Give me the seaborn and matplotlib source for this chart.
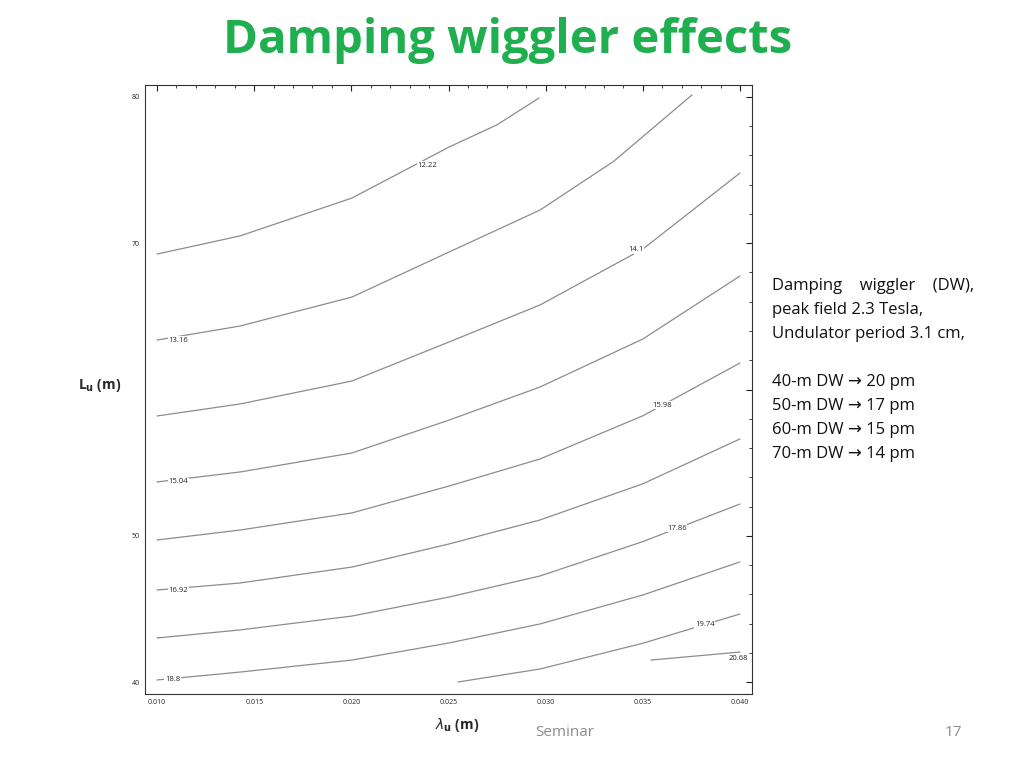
import matplotlib
matplotlib.use("Agg")
import matplotlib.pyplot as plt
import seaborn as sns
import pandas as pd
from matplotlib.ticker import MultipleLocator

sns.set_style("white")
plt.rcParams['font.family'] = ['Open Sans', 'DejaVu Sans']

levels = ["12.22", "13.16", "14.1", "15.04", "15.98", "16.92", "17.86", "18.8", "19.74", "20.68"]
xs = {
    "12.22": [0.0100, 0.01427, 0.02003, 0.02503, 0.0275, 0.02966],
    "13.16": [0.0100, 0.01427, 0.02003, 0.02503, 0.02971, 0.0335, 0.03753],
    "14.1":  [0.0100, 0.01427, 0.02003, 0.02503, 0.02971, 0.0350, 0.0400],
    "15.04": [0.0100, 0.01427, 0.02003, 0.02503, 0.02971, 0.0350, 0.0400],
    "15.98": [0.0100, 0.01427, 0.02003, 0.02503, 0.02971, 0.0350, 0.0400],
    "16.92": [0.0100, 0.01427, 0.02003, 0.02503, 0.02971, 0.0350, 0.0400],
    "17.86": [0.0100, 0.01427, 0.02003, 0.02503, 0.02971, 0.0350, 0.0400],
    "18.8":  [0.0100, 0.01427, 0.02003, 0.02503, 0.02971, 0.0350, 0.0400],
    "19.74": [0.02549, 0.02971, 0.0350, 0.0400],
    "20.68": [0.03542, 0.0400],
}
ys = {
    "12.22": [69.26, 70.50, 73.09, 76.58, 78.10, 79.93],
    "13.16": [63.38, 64.34, 66.32, 69.40, 72.27, 75.60, 80.14],
    "14.1":  [58.19, 59.01, 60.58, 63.25, 65.78, 69.60, 74.80],
    "15.04": [53.68, 54.36, 55.66, 57.91, 60.17, 63.45, 67.76],
    "15.98": [49.71, 50.39, 51.56, 53.40, 55.25, 58.20, 61.81],
    "16.92": [46.29, 46.77, 47.86, 49.44, 51.08, 53.55, 56.62],
    "17.86": [43.01, 43.56, 44.51, 45.81, 47.25, 49.60, 52.17],
    "18.8":  [40.14, 40.68, 41.50, 42.67, 43.97, 45.95, 48.21],
    "19.74": [40.00, 40.89, 42.65, 44.65],
    "20.68": [41.50, 42.05],
}
label_pos = {
    "12.22": (0.0239, 75.35), "14.1": (0.03465, 69.54), "15.98": (0.0360, 58.94),
    "17.86": (0.03676, 50.53), "19.74": (0.0382, 43.9), "20.68": (0.0399, 41.64),
    "13.16": (0.0106, 63.38), "15.04": (0.0106, 53.68), "16.92": (0.0106, 46.29),
    "18.8": (0.0104, 40.14),
}
xticks = [0.010, 0.015, 0.020, 0.025, 0.030, 0.035, 0.040]
yticks = [40, 50, 60, 70, 80]
yticklabels = ["40", "50", "", "70", "80"]

fig = plt.figure(figsize=(10.24, 7.68), dpi=100)
ax = fig.add_axes([145/1024, 74/768, 607/1024, 609/768])
for lv in levels:
    df = pd.DataFrame({"x": xs[lv], "y": ys[lv]})
    sns.lineplot(data=df, x="x", y="y", sort=False, ax=ax, color="#8c8c8c", lw=0.9, estimator=None)
for lv, (lx, ly) in label_pos.items():
    ha = "left" if lx < 0.012 else "center"
    ax.text(lx, ly, lv, fontsize=5.5, ha=ha, va="center", color="#222222",
            bbox=dict(facecolor="white", edgecolor="none", pad=0.5))

ax.set_xlim(0.00938, 0.04062)
ax.set_ylim(39.18, 80.82)
ax.set_xticks(xticks)
ax.set_xticklabels([f"{t:.3f}" for t in xticks])
ax.set_yticks(yticks)
ax.set_yticklabels(yticklabels)
ax.xaxis.set_minor_locator(MultipleLocator(0.001))
ax.yaxis.set_minor_locator(MultipleLocator(2))
ax.tick_params(which="both", direction="in", top=True, right=True, labelsize=5, colors="#222222")
ax.tick_params(which="major", length=4)
ax.tick_params(which="minor", length=2)
ax.set_xlabel("")
ax.set_ylabel("")
for s in ax.spines.values():
    s.set_color("#333333")
    s.set_linewidth(0.8)

fig.text(508/1024, 1 - 40/768, "Damping wiggler effects", fontsize=34, fontweight="bold",
         color="#1faf4f", ha="center", va="center")
fig.text(100/1024, 1 - 385/768, r"L$_\mathbf{u}$ (m)", fontsize=10, fontweight="bold", ha="center", va="center")
fig.text(457/1024, 1 - 725/768, r"$\lambda_\mathbf{u}$ (m)", fontsize=10, fontweight="bold", ha="center", va="center")

lines = ["Damping    wiggler    (DW),", "peak field 2.3 Tesla,", "Undulator period 3.1 cm,", "",
         "40-m DW \u2192 20 pm", "50-m DW \u2192 17 pm", "60-m DW \u2192 15 pm", "70-m DW \u2192 14 pm"]
for i, t in enumerate(lines):
    fig.text(772/1024, 1 - (286 + i*24)/768, t, fontsize=12, ha="left", va="center", color="#111111")

fig.text(565/1024, 1 - 733/768, "Seminar", fontsize=11, color="#8c8c8c", ha="center", va="center")
fig.text(953/1024, 1 - 733/768, "17", fontsize=11, color="#8c8c8c", ha="center", va="center")

fig.savefig("out.png", dpi=100)
